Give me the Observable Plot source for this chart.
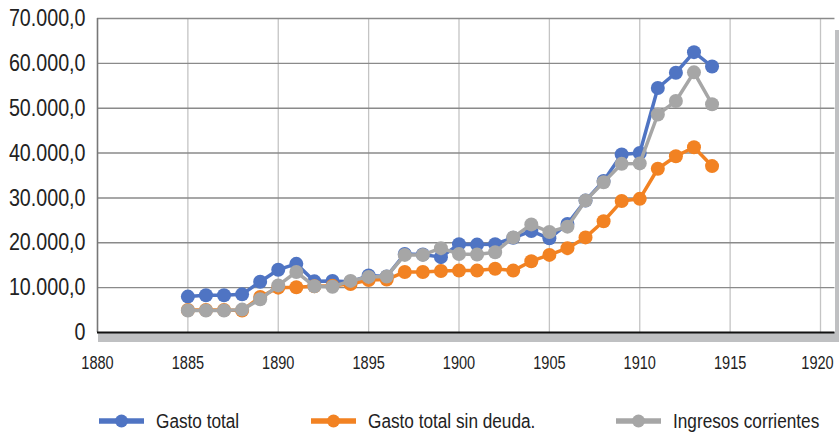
<!DOCTYPE html>
<html>
<head>
<meta charset="utf-8">
<script src="https://cdn.jsdelivr.net/npm/d3@7"></script>
<script src="https://cdn.jsdelivr.net/npm/@observablehq/plot@0.6"></script>
<style>
  html, body { margin: 0; padding: 0; background: #fff; }
  body { width: 839px; height: 434px; overflow: hidden; position: relative;
         font-family: "Liberation Sans", Arial, sans-serif; }
  #legend { position: absolute; left: 0; top: 380px; width: 839px; height: 54px; }
  .mark { position: absolute; top: 34px; }
  .label { position: absolute; top: 29px; font-size: 20px; line-height: 24px; color: #222;
           white-space: nowrap; transform: scaleX(0.86); transform-origin: 0 50%; }
</style>
</head>
<body>
<div id="chart"></div>
<div id="legend"></div>
<script>
const years = d3.range(1885, 1915);
const seriesNames = ["Gasto total", "Gasto total sin deuda.", "Ingresos corrientes"];
const seriesColors = ["#4f74c3", "#f28222", "#a6a6a6"];

const gastoTotal = [8000, 8300, 8300, 8500, 11300, 14000, 15300, 11400, 11500, 11300, 12700, 12500,
  17500, 17400, 16800, 19700, 19600, 19700, 21100, 22600, 21000, 24200, 29400, 33800, 39700, 40000,
  54500, 57900, 62500, 59300];
const gastoSinDeuda = [5000, 5000, 5000, 4900, 7900, 10000, 10100, 10300, 10400, 10800, 11700, 11800,
  13500, 13500, 13700, 13800, 13800, 14200, 13800, 15900, 17300, 18800, 21200, 24800, 29300, 29800,
  36500, 39300, 41300, 37100];
const ingresosCorrientes = [4900, 4900, 4900, 5100, 7400, 10500, 13500, 10300, 10200, 11500, 12400, 12500,
  17300, 17300, 18800, 17500, 17400, 17900, 21200, 24100, 22400, 23600, 29400, 33500, 37600, 37700,
  48600, 51600, 58000, 50900];

const yTicks = [0, 10000, 20000, 30000, 40000, 50000, 60000, 70000];
const xTicks = [1880, 1885, 1890, 1895, 1900, 1905, 1910, 1915, 1920];

const esLocale = d3.formatLocale({decimal: ",", thousands: ".", grouping: [3], currency: ["", ""]});
const fmt = esLocale.format(",.1f");
const yFormat = d => d === 0 ? "0" : fmt(d);

const allSeries = [gastoTotal, gastoSinDeuda, ingresosCorrientes];
const rows = allSeries.flatMap((vals, i) => years.map((year, j) => ({year, value: vals[j], series: seriesNames[i]})));

// decorative 3D floor & side wall (Excel style), drawn relative to the frame
function walls(index, scales, values, dimensions) {
  const {width, height, marginLeft, marginRight, marginBottom, marginTop} = dimensions;
  const g = d3.create("svg:g");
  const y0 = height - marginBottom;
  const xr = width - marginRight;
  g.append("rect").attr("x", marginLeft + 1).attr("y", y0).attr("width", xr - marginLeft + 14).attr("height", 10).attr("fill", "#bfc0c2");
  g.append("rect").attr("x", xr + 15).attr("y", marginTop + 12).attr("width", 6).attr("height", y0 - marginTop - 2).attr("fill", "#bfc0c2");
  return g.node();
}

const seriesMarks = seriesNames.flatMap((name, i) => {
  const data = rows.filter(r => r.series === name);
  return [
    Plot.line(data, {x: "year", y: "value", stroke: seriesColors[i], strokeWidth: 3.5}),
    Plot.dot(data, {x: "year", y: "value", fill: seriesColors[i], r: 7})
  ];
});

const chart = Plot.plot({
  width: 839,
  height: 380,
  marginLeft: 97,
  marginRight: 19,
  marginTop: 18,
  marginBottom: 48,
  style: {fontFamily: '"Liberation Sans", Arial, sans-serif', background: "#fff", overflow: "visible"},
  x: {domain: [1880, 1920], label: null},
  y: {domain: [0, 70000], label: null},
  marks: [
    walls,
    Plot.gridX(xTicks, {stroke: "#c4c4c4", strokeOpacity: 1, strokeWidth: 1.3}),
    Plot.gridY(yTicks.filter(d => d > 0), {stroke: "#8a8a8a", strokeOpacity: 1, strokeWidth: 1.4, x1: 1880, x2: 1920.8}),
    Plot.ruleX([1880], {stroke: "#777", strokeWidth: 1.5}),
    Plot.ruleY([0], {stroke: "#111", strokeWidth: 2, x1: 1880, x2: 1920.8}),
    Plot.axisX({ticks: xTicks, tickFormat: d => String(d), tickSize: 0, tickPadding: 24, fontSize: 17.5, fill: "#222"}),
    Plot.axisY({ticks: yTicks, tickFormat: yFormat, tickSize: 0, tickPadding: 12, fontSize: 24, fill: "#222"}),
    ...seriesMarks
  ]
});
document.getElementById("chart").appendChild(chart);

// condense axis text horizontally (narrow face not installed)
function condense(el, k) {
  const len = el.getComputedTextLength();
  if (len > 0) {
    el.setAttribute("textLength", (len * k).toFixed(2));
    el.setAttribute("lengthAdjust", "spacingAndGlyphs");
  }
}
chart.querySelectorAll("g[aria-label]").forEach(g => {
  const lab = g.getAttribute("aria-label");
  if (lab.includes("y-axis")) g.querySelectorAll("text").forEach(el => condense(el, 0.82));
  else if (lab.includes("x-axis")) {
    const texts = [...g.querySelectorAll("text")];
    texts.forEach(el => condense(el, 0.83));
    // Excel nudges the last category label inside the chart area
    const last = texts.find(el => el.textContent === String(xTicks[xTicks.length - 1]));
    if (last) last.setAttribute("dx", "-3");
  }
});

const legendLefts = [99, 311, 616];
const legend = document.getElementById("legend");
seriesNames.forEach((name, i) => {
  const L = legendLefts[i];
  const mark = document.createElement("div");
  mark.className = "mark";
  mark.style.left = L + "px";
  mark.innerHTML = `<svg width="45" height="14" style="display:block"><line x1="0" y1="7" x2="45" y2="7" stroke="${seriesColors[i]}" stroke-width="5.5"/><circle cx="22.5" cy="7" r="6.5" fill="${seriesColors[i]}"/></svg>`;
  legend.appendChild(mark);
  const label = document.createElement("div");
  label.className = "label";
  label.style.left = (L + 57) + "px";
  label.textContent = name;
  legend.appendChild(label);
});
</script>
</body>
</html>
